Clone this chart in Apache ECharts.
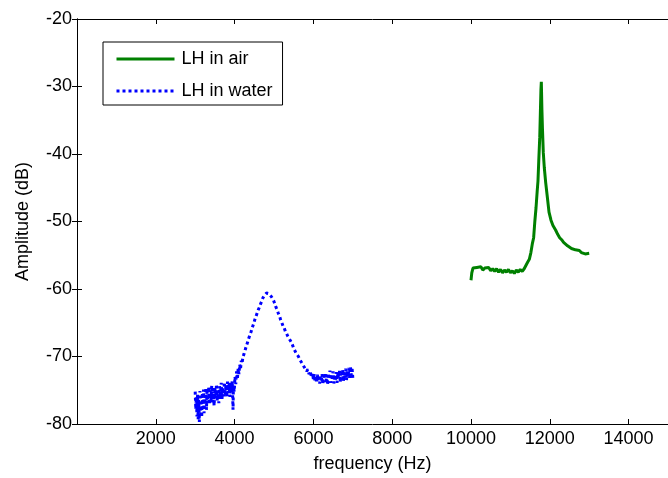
<!DOCTYPE html>
<html>
<head>
<meta charset="utf-8">
<style>
html,body{margin:0;padding:0;background:#fff;}
#chart{width:668px;height:478px;}
</style>
<script src="https://cdn.jsdelivr.net/npm/echarts@6/dist/echarts.min.js"></script>
</head>
<body>
<div id="chart"></div>
<script>
// ---- data ----
const seriesNames = ['LH in air', 'LH in water'];
const xTickLabels = ['2000','4000','6000','8000','10000','12000','14000'];
const yTickLabels = ['-80','-70','-60','-50','-40','-30','-20'];

const airFreq = [10000,10020,10050,10100,10150,10200,10250,10300,10350,10400,10450,10500,10550,10600,10650,10700,10750,10800,10850,10900,10950,11000,11050,11100,11150,11200,11250,11300,11350,11400,11440,11480,11520,11560,11590,11620,11650,11680,11700,11720,11745,11760,11775,11785,11800,11815,11835,11860,11895,11930,11980,12030,12080,12150,12200,12250,12300,12350,12400,12450,12500,12550,12600,12650,12700,12750,12800,12850,12900,12950,13000];
const airAmp = [-58.7,-57.6,-56.9,-57.1,-56.8,-57.0,-56.7,-57.2,-56.9,-57.1,-56.8,-57.3,-57.0,-57.4,-57.0,-57.5,-57.1,-57.6,-57.2,-57.5,-57.1,-57.6,-57.3,-57.7,-57.2,-57.5,-57.1,-57.4,-57.0,-57.0,-56.0,-55.6,-54.6,-53.2,-52.4,-50.0,-48.0,-45.5,-44.0,-41.0,-37.5,-34.0,-30.5,-29.3,-33.5,-36.5,-39.8,-42.0,-44.2,-46.0,-48.6,-49.8,-50.6,-51.3,-51.9,-52.4,-52.7,-53.1,-53.3,-53.6,-53.7,-54.0,-53.9,-54.2,-54.4,-54.3,-54.6,-54.5,-54.8,-54.6,-54.7];

const waterFreq = [3000,3015,3030,3045,3060,3075,3090,3105,3120,3135,3150,3165,3180,3195,3210,3225,3240,3255,3270,3285,3300,3320,3340,3360,3380,3400,3420,3440,3460,3480,3500,3520,3540,3560,3580,3600,3620,3640,3660,3680,3700,3720,3740,3760,3780,3800,3820,3840,3860,3880,3900,3920,3940,3960,3970,3990,4010,4030,4050,4070,4090,4110,4130,4150,4170,4190,4210,4240,4270,4300,4330,4360,4390,4420,4450,4480,4510,4540,4570,4600,4630,4660,4690,4720,4750,4780,4810,4840,4870,4900,4930,4960,4990,5020,5050,5080,5110,5140,5170,5200,5230,5260,5290,5320,5350,5380,5410,5440,5470,5500,5530,5560,5590,5620,5650,5680,5710,5740,5770,5800,5830,5860,5890,5920,5950,5980,6000,6020,6040,6060,6080,6100,6120,6140,6160,6180,6200,6220,6240,6260,6280,6300,6320,6340,6360,6380,6400,6420,6440,6460,6480,6500,6520,6540,6560,6580,6600,6620,6640,6660,6680,6700,6720,6740,6760,6780,6800,6820,6840,6860,6880,6900,6920,6940,6960,6980,7000];
const waterAmp = [-75.2,-77.8,-76.0,-78.9,-75.6,-79.3,-76.4,-79.7,-75.1,-78.2,-76.8,-79.0,-75.4,-77.6,-74.9,-78.4,-75.8,-77.2,-74.6,-77.9,-75.3,-76.9,-74.5,-77.1,-75.0,-76.6,-74.3,-76.8,-75.2,-77.3,-74.6,-76.2,-74.1,-76.5,-75.0,-76.9,-74.4,-76.0,-73.9,-76.3,-74.6,-75.9,-73.8,-75.7,-74.2,-76.1,-73.7,-75.4,-73.9,-76.0,-74.0,-75.1,-73.6,-77.9,-74.3,-75.2,-73.0,-74.1,-72.2,-73.4,-71.8,-72.6,-71.2,-71.9,-70.6,-71.0,-70.1,-69.6,-69.0,-68.4,-67.9,-67.3,-66.8,-66.3,-65.7,-65.2,-64.6,-64.1,-63.6,-63.1,-62.7,-62.2,-61.8,-61.3,-61.0,-60.8,-60.6,-60.5,-60.7,-60.8,-61.1,-61.4,-61.7,-62.2,-62.7,-63.1,-63.6,-64.0,-64.6,-65.0,-65.5,-65.8,-66.3,-66.6,-67.0,-66.8,-67.6,-67.9,-68.3,-68.8,-69.0,-69.5,-69.6,-70.0,-70.4,-70.6,-71.0,-71.1,-71.6,-71.4,-72.2,-71.9,-72.6,-72.2,-73.1,-72.5,-73.4,-72.6,-73.7,-72.9,-73.9,-72.7,-73.5,-72.8,-74.0,-73.0,-73.6,-72.6,-74.1,-72.9,-73.8,-72.4,-73.6,-72.7,-74.2,-72.5,-73.4,-72.1,-73.9,-72.8,-73.3,-72.2,-74.0,-72.7,-73.6,-72.3,-73.9,-72.4,-73.1,-72.0,-73.8,-72.6,-73.4,-71.9,-73.7,-72.3,-73.2,-71.8,-73.5,-72.1,-73.0,-71.7,-73.3,-71.5,-72.8,-71.6,-73.2];

// ---- chart ----
const FONT = '"Liberation Sans", Arial, sans-serif';
const airData = airFreq.map((f, i) => [f, airAmp[i]]);
const waterData = waterFreq.map((f, i) => [f, waterAmp[i]]);

const axisCommon = {
  axisLine: { show: true, lineStyle: { color: '#000', width: 1 } },
  axisTick: { show: true, inside: true, length: 5, lineStyle: { color: '#000', width: 1 } },
  splitLine: { show: false }
};

const chart = echarts.init(document.getElementById('chart'), null, { renderer: 'canvas' });
chart.setOption({
  animation: false,
  backgroundColor: '#fff',
  grid: { left: 77, top: 19, right: -7.5, bottom: 53, containLabel: false },
  legend: {
    orient: 'vertical',
    left: 103, top: 42,
    padding: [8, 10, 5, 12],
    itemWidth: 58, itemHeight: 18, itemGap: 14,
    borderColor: '#000', borderWidth: 1, borderRadius: 0,
    backgroundColor: '#fff',
    itemStyle: { opacity: 0 },
    lineStyle: { width: 3 },
    textStyle: { fontFamily: FONT, fontSize: 18, color: '#000', padding: [0, 0, 0, 2] },
    data: seriesNames
  },
  xAxis: [
    Object.assign({}, axisCommon, {
      type: 'value', position: 'bottom', min: 0, max: 15000, interval: 2000,
      name: 'frequency (Hz)', nameLocation: 'middle', nameGap: 31,
      nameTextStyle: { fontFamily: FONT, fontSize: 18, color: '#000' },
      axisLabel: {
        fontFamily: FONT, fontSize: 18, color: '#000', margin: 6,
        showMaxLabel: false,
        formatter: v => { const s = String(v); return xTickLabels.indexOf(s) >= 0 ? s : ''; }
      }
    }),
    Object.assign({}, axisCommon, {
      type: 'value', position: 'top', min: 0, max: 15000, interval: 2000,
      axisLabel: { show: false }
    })
  ],
  yAxis: [
    Object.assign({}, axisCommon, {
      type: 'value', position: 'left', min: -80, max: -20, interval: 10,
      name: 'Amplitude (dB)', nameLocation: 'middle', nameGap: 45,
      nameTextStyle: { fontFamily: FONT, fontSize: 18, color: '#000' },
      axisLabel: {
        fontFamily: FONT, fontSize: 18, color: '#000', margin: 5,
        formatter: v => { const s = String(v); return yTickLabels.indexOf(s) >= 0 ? s : ''; }
      }
    }),
    Object.assign({}, axisCommon, {
      type: 'value', position: 'right', min: -80, max: -20, interval: 10,
      axisLabel: { show: false }
    })
  ],
  series: [
    {
      name: seriesNames[0], type: 'line', data: airData,
      xAxisIndex: 0, yAxisIndex: 0,
      symbol: 'none', showSymbol: false,
      lineStyle: { color: '#008000', width: 3 },
      itemStyle: { color: '#008000' },
      clip: true
    },
    {
      name: seriesNames[1], type: 'line', data: waterData,
      xAxisIndex: 0, yAxisIndex: 0,
      symbol: 'none', showSymbol: false,
      lineStyle: { color: '#0000ff', width: 3, type: 'dotted' },
      itemStyle: { color: '#0000ff' },
      clip: true
    }
  ]
});
</script>
</body>
</html>
